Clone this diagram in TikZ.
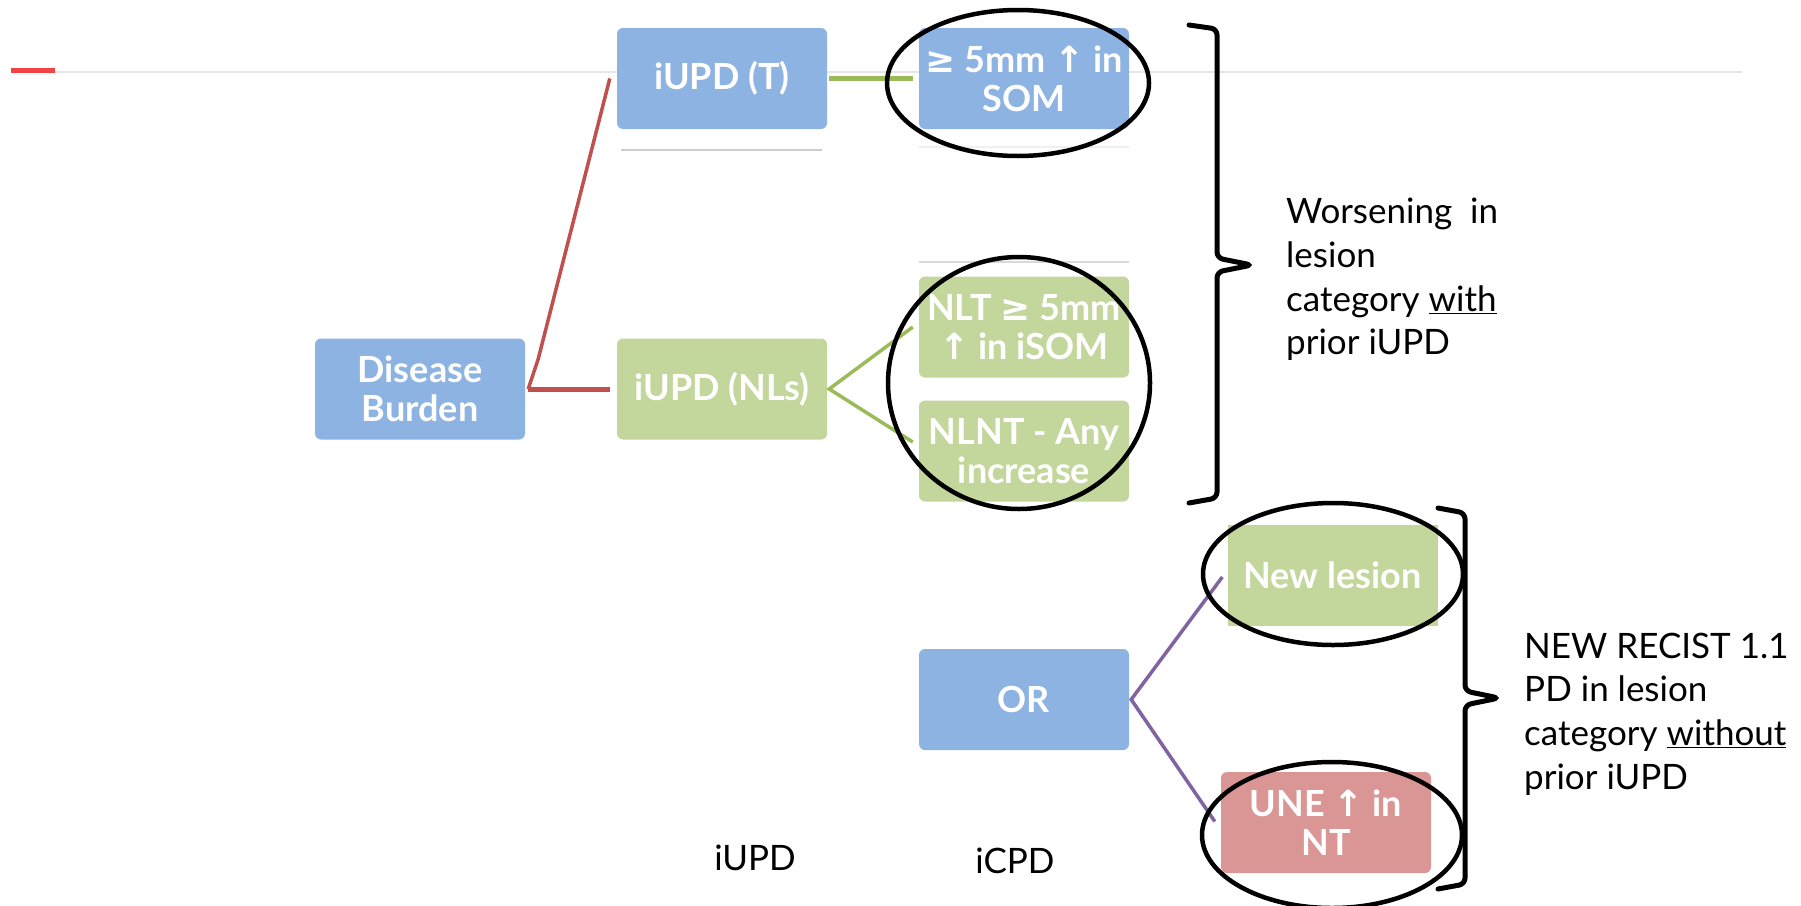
\documentclass[tikz,border=0pt]{standalone}
\usepackage{fontspec}
\setmainfont{Lato}
\newfontfamily\symf{DejaVu Sans}
\usetikzlibrary{calc}

\definecolor{boxblue}{RGB}{141,179,226}
\definecolor{boxgreen}{RGB}{195,214,155}
\definecolor{boxred}{RGB}{217,150,148}
\definecolor{linered}{RGB}{192,80,77}
\definecolor{linegreen}{RGB}{155,187,89}
\definecolor{linepurple}{RGB}{128,100,162}
\definecolor{dashred}{RGB}{240,68,68}
\definecolor{rulegray}{RGB}{230,230,230}

\newcommand{\gesym}{{\symf ≥}}
\newcommand{\upsym}{{\symf ↑}}

\tikzset{
  box/.style={rounded corners=6pt, minimum width=210pt, minimum height=101pt,
    inner sep=1pt, align=center, text=white,
    font=\fontsize{36}{39}\selectfont\bfseries},
  bluebox/.style={box, fill=boxblue},
  greenbox/.style={box, fill=boxgreen},
  redbox/.style={box, fill=boxred},
  ring/.style={draw=black, line width=4.5pt},
  brace/.style={draw=black, line width=5pt, rounded corners=6pt, line cap=round},
  note/.style={align=left, anchor=west, inner sep=0pt,
    font=\fontsize{35}{43.7}\selectfont},
  caption/.style={inner sep=0pt, font=\fontsize{35}{40}\selectfont},
}

\begin{document}
\begin{tikzpicture}[x=1pt, y=-1pt]
\useasboundingbox[fill=white] (0,0) rectangle (1801,905);

% header rule with its red marker
\draw[rulegray, line width=2.5pt] (55,72) -- (1742,72);
\draw[dashred, line width=5pt] (11,70) -- (55,70);

% faint separators
\draw[black!20, line width=2pt] (621,150) -- (822,150);
\draw[black!6, line width=2pt] (919,147) -- (1129,147);
\draw[black!15, line width=2pt] (919,262) -- (1129,262);

% boxes
\node[bluebox]  (db)     at (420,389)    {Disease\\Burden};
\node[bluebox]  (iupdt)  at (722,78.5)   {iUPD (T)};
\node[greenbox] (iupdnl) at (722,389)    {iUPD (NLs)};
\node[bluebox]  (som)    at (1024,78.5)  {\gesym{} 5mm \upsym{} in\\SOM};
\node[greenbox] (nlt)    at (1024,327)   {NLT \gesym{} 5mm\\\upsym{} in iSOM};
\node[greenbox] (nlnt)   at (1024,451)   {NLNT - Any\\increase};
\node[bluebox]  (or)     at (1024,699.5) {OR};
\node[greenbox, rounded corners=0pt] (newl) at (1332.5,575) {New lesion};
\node[redbox]   (une)    at (1326,822.5) {UNE \upsym{} in\\NT};

% connectors
\draw[linered, line width=3.5pt] ($(db.east)+(3,0)$) -- ++(10,-30) -- ($(iupdt.west)+(-7,0)$);
\draw[linered, line width=5pt] ($(db.east)+(3,0)$) -- ($(iupdnl.west)+(-7,0)$);
\draw[linegreen, line width=5pt] ($(iupdt.east)+(2,0)$) -- ($(som.west)+(-6,0)$);
\draw[linegreen, line width=3.5pt] ($(nlt.west)+(-6,0)$) -- ($(iupdnl.east)+(2,0)$) -- ($(nlnt.west)+(-6,-9)$);
\draw[linepurple, line width=3.5pt] ($(newl.west)+(-5,2)$) -- ($(or.east)+(2,0)$) -- ($(une.west)+(-6,-1)$);

% rings
\draw[ring] (1018,83) ellipse [x radius=131, y radius=73];
\draw[ring] (1019,383) ellipse [x radius=131, y radius=126];
\draw[ring] (1333,574) ellipse [x radius=130, y radius=71];
\draw[ring] (1332,835) ellipse [x radius=130, y radius=73];

% braces
\draw[brace] (1189,25) -- (1217,29) -- (1217,258) -- (1252,265) -- (1217,272) -- (1217,498) -- (1189,503);
\draw[brace] (1438,508) -- (1465,513) -- (1465,691) -- (1499,698) -- (1465,705) -- (1465,884) -- (1438,889);

% notes
\node[note] (w) at (1286,279.5) {Worsening~~in\\lesion\\category \underline{with}\\prior iUPD};
\node[note] (r) at (1524,714) {NEW RECIST 1.1\\PD in lesion\\category \underline{without}\\prior iUPD};

\node[caption] (c1) at (755,858) {iUPD};
\node[caption] (c2) at (1015,861) {iCPD};
\end{tikzpicture}
\end{document}
